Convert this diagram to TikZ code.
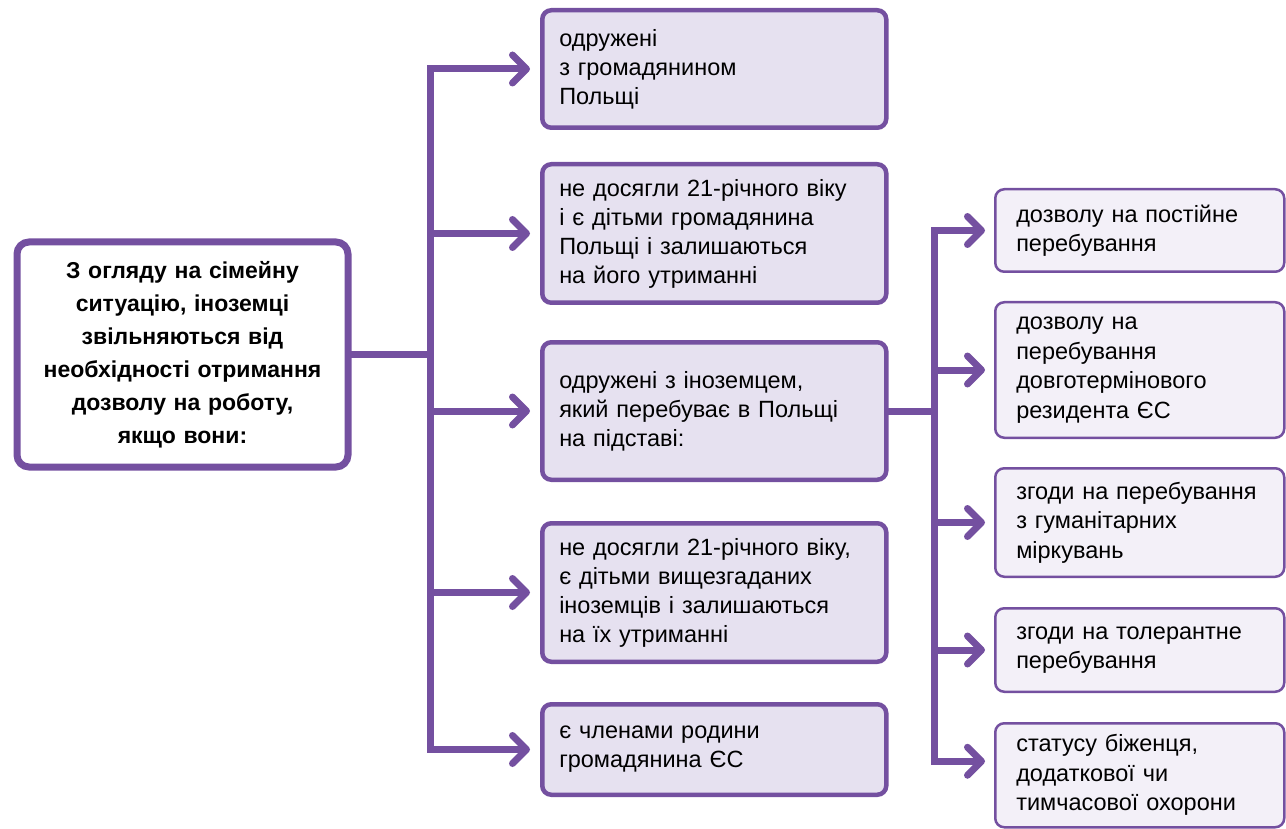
\documentclass[tikz,border=0pt]{standalone}
\usepackage{fontspec}
\setmainfont{Liberation Sans}
\usetikzlibrary{arrows.meta}

\definecolor{famviolet}{HTML}{7450A0}
\definecolor{famlilac}{HTML}{E6E1F0}
\definecolor{famlight}{HTML}{F3F0F8}

\tikzset{
	famnode/.style={draw=famviolet, line width=7pt, fill=white, rounded corners=12pt,
		minimum width=331pt, minimum height=225pt, text width=310pt, align=center,
		font=\bfseries\fontsize{23}{33}\selectfont, anchor=north west},
	casebox/.style={draw=famviolet, line width=4.5pt, fill=famlilac, rounded corners=9pt,
		minimum width=344pt, inner xsep=17pt, text width=310pt, align=left,
		font=\fontsize{23.5}{29}\selectfont, anchor=north west},
	basisbox/.style={draw=famviolet, line width=2.5pt, fill=famlight, rounded corners=9pt,
		minimum width=289pt, inner xsep=21pt, text width=247pt, align=left,
		font=\fontsize{23.5}{29.5}\selectfont, anchor=north west},
	link/.style={famviolet, line width=7pt, line cap=rect},
	arr/.style={link, -{Straight Barb[length=14pt, width=28pt, round]}}
}

\begin{document}
\begin{tikzpicture}[x=1pt, y=-1pt]
	\useasboundingbox (0,0) rectangle (1286,829);
	% left box
	\node[famnode] (fam) at (13.5,238.5) {З огляду на сімейну\\ ситуацію, іноземці\\ звільняються від\\ необхідності отримання\\ дозволу на роботу,\\ якщо вони:};
	% middle column
	\node[casebox, minimum height=117.5pt] (m1) at (540,8) {одружені\\ з громадянином\\ Польщі};
	\node[casebox, minimum height=138.5pt] (m2) at (540,162) {не досягли 21-річного віку\\ і є дітьми громадянина\\ Польщі і залишаються\\ на його утриманні};
	\node[casebox, minimum height=137.5pt] (m3) at (540,340) {одружені з іноземцем,\\ який перебуває в Польщі\\ на підставі:};
	\node[casebox, minimum height=138.5pt] (m4) at (540,521) {не досягли 21-річного віку,\\ є дітьми вищезгаданих\\ іноземців і залишаються\\ на їх утриманні};
	\node[casebox, minimum height=90.5pt] (m5) at (540,702) {є членами родини\\ громадянина ЄС};
	% right column
	\node[basisbox, minimum height=82.5pt] (r1) at (994,188) {дозволу на постійне\\ перебування};
	\node[basisbox, minimum height=135.5pt] (r2) at (994,301) {дозволу на\\ перебування\\ довготермінового\\ резидента ЄС};
	\node[basisbox, minimum height=108.5pt] (r3) at (994,467) {згоди на перебування\\ з гуманітарних\\ міркувань};
	\node[basisbox, minimum height=83.5pt] (r4) at (994,607) {згоди на толерантне\\ перебування};
	\node[basisbox, minimum height=104pt] (r5) at (994,722) {статусу біженця,\\ додаткової чи\\ тимчасової охорони};

	\coordinate (lt) at (430,0);
	\coordinate (rt) at (934,0);
	\coordinate (r5in) at ([yshift=14pt]r5.west);

	% connectors, left
	\draw[link] (fam.east) -- (lt |- fam.east);
	\draw[arr] (lt |- m5.west) -- (lt |- m1.west) -- ([xshift=-10pt]m1.west);
	\foreach \m in {m2,m3,m4,m5}
		\draw[arr] (lt |- \m.west) -- ([xshift=-10pt]\m.west);
	% connectors, right
	\draw[link] (m3.east) -- (rt |- m3.east);
	\draw[arr] (rt |- r5in) -- (rt |- r1.west) -- ([xshift=-9pt]r1.west);
	\foreach \r in {r2,r3,r4}
		\draw[arr] (rt |- \r.west) -- ([xshift=-9pt]\r.west);
	\draw[arr] (rt |- r5in) -- ([xshift=-9pt]r5in);
\end{tikzpicture}
\end{document}
